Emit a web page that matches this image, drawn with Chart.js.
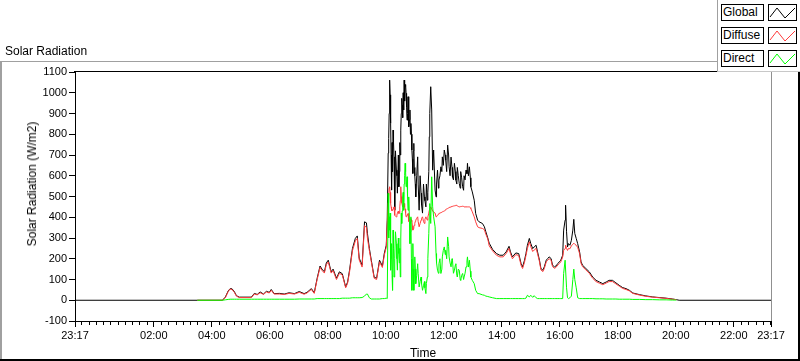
<!DOCTYPE html>
<html><head><meta charset="utf-8">
<script src="https://cdn.jsdelivr.net/npm/chart.js@4.4.1/dist/chart.umd.min.js"></script>
<style>
html,body{margin:0;padding:0;background:#fff;}
#wrap{position:relative;width:800px;height:361px;overflow:hidden;font-family:"Liberation Sans",Arial,sans-serif;}
#c{position:absolute;left:0;top:0;}
.t{position:absolute;font-size:12px;color:#000;white-space:nowrap;line-height:14px;}
#ytitle{left:32px;top:184px;transform:translate(-50%,-50%) rotate(-90deg);}
#legend{position:absolute;left:717px;top:0;width:83px;height:71px;background:#fff;border-left:1px solid #a0a0a0;border-bottom:1px solid #c8c8c8;}
.lt{position:absolute;left:721px;width:40px;height:15px;border:1px solid #000;font-size:12px;line-height:15px;padding-left:1px;background:#fff;}
.ls{position:absolute;left:768px;width:27px;height:15px;border:1px solid #000;background:#fff;}
.ls svg{position:absolute;left:0;top:0;}
</style></head>
<body><div id="wrap">
<canvas id="c" width="800" height="361"></canvas>
<div class="t" style="left:5px;top:44px;">Solar Radiation</div>
<div class="t" id="ytitle">Solar Radiation (W/m2)</div>
<div id="legend"></div>
<div class="lt" style="top:4px;">Global</div>
<div class="ls" style="top:4px;"><svg width="27" height="15"><polyline points="1,12 8,3 16,13 26,3" fill="none" stroke="#000" stroke-width="1"/></svg></div>
<div class="lt" style="top:27px;">Diffuse</div>
<div class="ls" style="top:27px;"><svg width="27" height="15"><polyline points="1,12 8,3 16,13 26,3" fill="none" stroke="#ff3c3c" stroke-width="1"/></svg></div>
<div class="lt" style="top:50px;">Direct</div>
<div class="ls" style="top:50px;"><svg width="27" height="15"><polyline points="1,12 8,3 16,13 26,3" fill="none" stroke="#00ff00" stroke-width="1"/></svg></div>
</div>
<script>
// time in minutes since midnight (23:17 previous day = -43)
const timeMin = [-43,210,262,268,274,278,282,287,291,297,322,328,334,340,347,353,359,363,369,380,390,400,411,421,431,437,446,452,458,464,468,473,477,481,487,491,498,504,510,517,521,525,531,537,541,545,551,556,560,562,566,570,576,581,587,593,597,601,
603,605,606,607,608,609,610,611,612,613,614,615,616,617,618,619,620,622,623,624,626,627,628,629,630,631,632,633,634,635,636,637,638,639,640,641,642,643,644,645,646,647,648,649,650,651,652,653,654,655,656,657,658,659,660,661,662,664,666,667,669,671,673,674,676,678,680,681,683,684,686,687,689,
690,691,693,695,697,699,
702,704,705,707,709,710,712,714,716,717,719,721,723,724,726,728,730,731,733,735,737,738,740,742,744,745,747,748,750,752,754,755,757,759,761,762,764,766,768,769,771,773,775,776,
779,783,786,790,793,800,804,807,811,814,821,829,836,843,849,855,858,862,869,875,880,883,887,890,893,897,900,904,907,911,914,918,921,925,928,932,935,938,942,945,949,952,956,959,962,966,968,971,972,974,976,978,981,984,987,989,991,994,997,1001,1004,1007,1014,1021,1028,1035,1042,1049,1056,1062,1069,1076,1083,1090,1097,1104,1111,1125,1138,1152,1166,1180,1193,1201,1207,1397];
const globalW = [0,0,0,15,45,56,55,40,22,15,15,33,28,40,30,43,38,52,32,33,30,36,32,42,32,38,56,36,106,165,150,137,180,193,137,150,106,137,128,64,88,145,249,298,310,203,169,378,373,323,250,193,111,106,193,165,227,265,
386,709,780,900,1061,990,853,700,531,760,620,820,760,691,560,434,720,627,600,516,700,547,620,760,700,820,900,973,940,880,1000,917,1061,960,1030,1040,997,930,868,900,981,940,836,870,917,800,852,800,724,680,611,720,756,640,600,560,498,600,691,560,434,600,516,460,420,560,498,480,450,560,482,520,620,
788,900,1029,917,627,724,
531,498,560,627,540,579,600,643,620,691,650,724,700,675,620,748,700,643,600,690,640,595,580,660,620,579,560,640,600,563,540,620,590,547,530,600,580,627,610,660,600,643,590,547,
522,482,418,386,378,370,354,330,300,275,245,225,217,217,233,260,233,209,228,225,176,161,193,225,265,298,273,249,257,265,233,193,153,145,161,193,201,209,201,169,161,165,177,185,193,217,338,386,458,330,257,273,265,289,338,390,322,298,273,233,185,169,153,137,112,96,88,80,88,96,96,84,72,61,56,48,35,27,21,16,13,10,6,3,0,0];
const diffuseW = [null,0,0,12,42,54,52,37,20,13,13,30,26,36,28,40,35,48,30,30,28,33,30,38,29,35,52,33,100,158,144,131,172,185,131,143,100,130,122,60,82,136,238,286,298,194,160,360,350,300,240,186,106,100,185,158,218,255,
370,470,500,540,547,520,467,450,434,430,430,440,445,450,430,410,405,402,410,420,430,418,420,450,480,547,500,470,460,450,455,460,466,450,440,420,402,405,410,415,418,400,380,375,370,380,394,385,380,360,338,345,354,360,370,380,386,395,402,380,354,370,386,395,402,380,370,390,402,395,386,400,420,
434,440,450,440,430,425,
420,402,405,408,415,418,420,422,424,426,428,430,434,437,440,442,445,447,448,450,452,453,454,455,456,458,457,455,452,450,451,452,452,453,452,450,450,450,450,450,450,450,446,442,
426,402,378,354,350,346,340,318,296,262,238,217,209,209,225,250,225,200,220,216,168,153,183,215,250,282,258,235,242,250,224,186,146,138,153,185,193,200,193,162,154,158,170,177,185,208,240,250,265,250,240,250,248,262,270,275,270,265,255,225,178,162,146,130,106,90,82,75,83,90,90,79,68,57,52,45,33,25,19,15,12,9,5,3,null,null];
const directW = [null,0,0,2,4,5,5,5,5,5,5,5,5,5,5,5,5,5,5,5,5,5,5,6,6,6,6,6,8,8,8,8,8,8,8,8,8,8,10,10,10,10,12,12,12,12,13,20,30,30,12,6,6,6,6,8,8,10,
8,515,300,402,338,420,145,200,273,120,48,338,250,112,160,200,330,273,200,145,300,225,180,250,112,300,420,370,430,498,520,434,560,600,660,620,547,560,595,500,434,470,498,380,273,330,402,200,48,150,273,150,48,120,209,150,80,120,176,130,64,90,112,80,48,70,90,60,32,80,112,200,322,
400,466,370,595,450,402,
354,225,180,145,130,176,200,129,150,209,240,257,220,241,200,305,260,209,180,161,200,193,130,145,170,176,120,112,150,145,100,96,120,129,100,112,130,161,190,209,160,193,140,112,
96,80,48,32,32,26,24,20,18,16,12,8,8,8,8,8,8,8,8,8,8,8,8,10,24,16,24,14,22,12,8,8,8,8,8,8,8,8,8,8,8,8,8,8,8,8,129,193,193,60,12,8,12,20,100,150,100,60,12,8,8,8,8,8,8,7,7,7,6,6,6,6,5,5,5,5,4,4,3,3,2,2,1,1,null,null];
const xTickValues = [-43,120,240,360,480,600,720,840,960,1080,1200,1320,1397];
const xTickLabels = ['23:17','02:00','04:00','06:00','08:00','10:00','12:00','14:00','16:00','18:00','20:00','22:00','23:17'];
const yMin = -100, yMax = 1100, yStep = 100;

if (globalW.length !== timeMin.length || diffuseW.length !== timeMin.length || directW.length !== timeMin.length) {
  console.error('length mismatch', timeMin.length, globalW.length, diffuseW.length, directW.length);
}

const pts = arr => timeMin.map((t,i) => ({x:t, y:arr[i]}));

const framePlugin = {
  id:'frame',
  beforeDraw(chart){
    const ctx = chart.ctx;
    ctx.save();
    ctx.fillStyle='#fff'; ctx.fillRect(0,0,800,361);
    ctx.fillStyle='#a0a0a0';
    ctx.fillRect(0,61,717,1);
    ctx.fillRect(0,61,2,298);
    ctx.fillStyle='#000';
    ctx.fillRect(0,359,800,2);
    ctx.fillRect(798,72,2,289);
    ctx.restore();
  },
  afterDraw(chart){
    const ctx = chart.ctx, a = chart.chartArea, xs = chart.scales.x;
    ctx.save();
    ctx.fillStyle='#000';
    ctx.fillRect(Math.round(a.left)-1, Math.round(a.top)-1, Math.round(a.right-a.left)+1, 1);
    ctx.fillStyle='#909090';
    ctx.fillRect(Math.round(a.right), Math.round(a.top)-1, 1, Math.round(a.bottom-a.top)+1);
    ctx.fillStyle='#000';
    for(let m=-30; m<1397; m+=15){
      if (xTickValues.includes(m)) continue;
      const px = Math.round(xs.getPixelForValue(m));
      ctx.fillRect(px, Math.round(a.bottom)+1, 1, 3);
    }
    ctx.restore();
  }
};

new Chart(document.getElementById('c'), {
  type:'line',
  data:{datasets:[
    {label:'Global', data:pts(globalW), borderColor:'#000000', order:3},
    {label:'Diffuse', data:pts(diffuseW), borderColor:'#ff3c3c', order:2},
    {label:'Direct', data:pts(directW), borderColor:'#00ff00', order:1}
  ]},
  options:{
    responsive:false, animation:false, devicePixelRatio:1,
    layout:{padding:{top:72,right:29,bottom:0,left:0}},
    elements:{line:{borderWidth:1,tension:0,fill:false}, point:{radius:0,hoverRadius:0}},
    datasets:{line:{spanGaps:false}},
    plugins:{legend:{display:false}, tooltip:{enabled:false}, title:{display:false}},
    events:[],
    scales:{
      x:{type:'linear', min:-43, max:1397,
        afterBuildTicks:(s)=>{ s.ticks = xTickValues.map(v=>({value:v})); },
        afterFit:(s)=>{ s.height = 40; },
        ticks:{autoSkip:false, maxRotation:0, minRotation:0, padding:2, color:'#000',
          font:{family:'"Liberation Sans", Arial, sans-serif', size:11},
          callback:(v,i)=>xTickLabels[i]},
        grid:{drawOnChartArea:false, drawTicks:true, tickLength:6, color:'#000'},
        border:{display:true, color:'#000', width:1},
        title:{display:true, text:'Time', color:'#000', padding:{top:0,bottom:0},
          font:{family:'"Liberation Sans", Arial, sans-serif', size:12}}
      },
      y:{type:'linear', min:yMin, max:yMax,
        afterFit:(s)=>{ s.width = 75; },
        ticks:{stepSize:yStep, padding:2, color:'#000',
          font:{family:'"Liberation Sans", Arial, sans-serif', size:11},
          callback:(v)=>String(v)},
        grid:{drawOnChartArea:false, drawTicks:true, tickLength:6, color:'#000'},
        border:{display:true, color:'#000', width:1}
      }
    }
  },
  plugins:[framePlugin]
});
</script>
</body></html>
